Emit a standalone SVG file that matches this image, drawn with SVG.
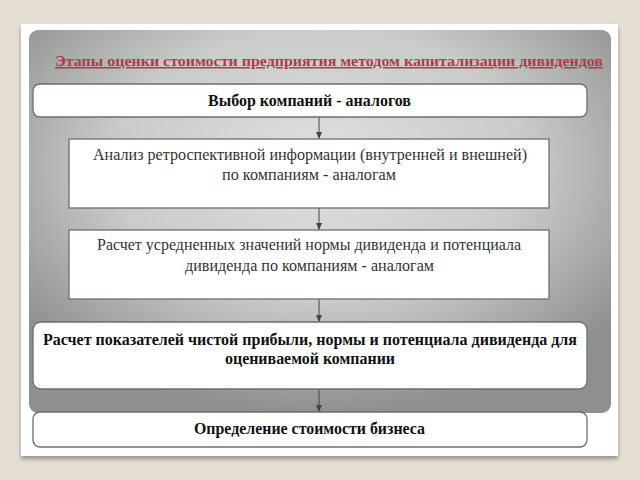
<svg xmlns="http://www.w3.org/2000/svg" width="640" height="480" viewBox="0 0 640 480">
<defs>
<radialGradient id="panelGrad" cx="0.5" cy="0.35" r="0.65">
<stop offset="0" stop-color="#dfe1de"/>
<stop offset="0.55" stop-color="#c9cbc8"/>
<stop offset="1" stop-color="#8e908e"/>
</radialGradient>
<filter id="shadow" x="-5%" y="-5%" width="110%" height="110%">
<feGaussianBlur in="SourceAlpha" stdDeviation="2"/>
<feOffset dx="0" dy="3"/>
<feComponentTransfer><feFuncA type="linear" slope="0.35"/></feComponentTransfer>
<feMerge><feMergeNode/><feMergeNode in="SourceGraphic"/></feMerge>
</filter>
<marker id="arrow" markerWidth="7" markerHeight="6" refX="7" refY="3" orient="auto" markerUnits="userSpaceOnUse" viewBox="0 0 7 6">
<path d="M0,0 L7,3 L0,6 Z" fill="#444"/>
</marker>
</defs>
<style>
.box{fill:#ffffff;stroke:#6e6e6e;stroke-width:1.3}
.bold{font-family:"Liberation Serif","DejaVu Serif","Times New Roman",serif;font-weight:bold;font-size:16px;fill:#111}
.reg{font-family:"Liberation Serif","DejaVu Serif","Times New Roman",serif;font-size:16px;fill:#333}
.title{font-family:"Liberation Serif","DejaVu Serif","Times New Roman",serif;font-weight:bold;font-size:15px;fill:#b03a4a;text-decoration:underline}
.conn{stroke:#444;stroke-width:1;fill:none;marker-end:url(#arrow)}
</style>
<rect x="0" y="0" width="640" height="480" fill="#e4ded3"/>
<rect x="21" y="24" width="597" height="432" fill="#ffffff" filter="url(#shadow)"/>
<rect x="29" y="30" width="582" height="383" rx="9" fill="url(#panelGrad)"/>
<text class="title" x="55" y="66" textLength="548" lengthAdjust="spacingAndGlyphs">Этапы оценки стоимости предприятия методом капитализации дивидендов</text>
<g id="connectors">
<line class="conn" x1="319" y1="117" x2="319" y2="139"/>
<line class="conn" x1="319" y1="208" x2="319" y2="230"/>
<line class="conn" x1="319" y1="299" x2="319" y2="322"/>
<line class="conn" x1="319" y1="389" x2="319" y2="412"/>
</g>
<g id="node1">
<rect class="box" x="33" y="84" width="554" height="33" rx="7"/>
<text class="bold" x="208" y="106" textLength="203" lengthAdjust="spacingAndGlyphs">Выбор компаний - аналогов</text>
</g>
<g id="node2">
<rect class="box" x="69" y="139" width="480" height="69"/>
<text class="reg" x="93" y="160" textLength="434" lengthAdjust="spacingAndGlyphs">Анализ ретроспективной информации (внутренней и внешней)</text>
<text class="reg" x="222" y="180" textLength="174" lengthAdjust="spacingAndGlyphs">по компаниям - аналогам</text>
</g>
<g id="node3">
<rect class="box" x="69" y="230" width="480" height="69"/>
<text class="reg" x="97" y="250" textLength="424" lengthAdjust="spacingAndGlyphs">Расчет усредненных значений нормы дивиденда и потенциала</text>
<text class="reg" x="185" y="271" textLength="249" lengthAdjust="spacingAndGlyphs">дивиденда по компаниям - аналогам</text>
</g>
<g id="node4">
<rect class="box" x="33" y="322" width="554" height="67" rx="8"/>
<text class="bold" x="43" y="345" textLength="534" lengthAdjust="spacingAndGlyphs">Расчет показателей чистой прибыли, нормы и потенциала дивиденда для</text>
<text class="bold" x="225" y="364" textLength="170" lengthAdjust="spacingAndGlyphs">оцениваемой компании</text>
</g>
<g id="node5">
<rect class="box" x="33" y="412" width="554" height="35" rx="7"/>
<text class="bold" x="194" y="434" textLength="231" lengthAdjust="spacingAndGlyphs">Определение стоимости бизнеса</text>
</g>
</svg>
